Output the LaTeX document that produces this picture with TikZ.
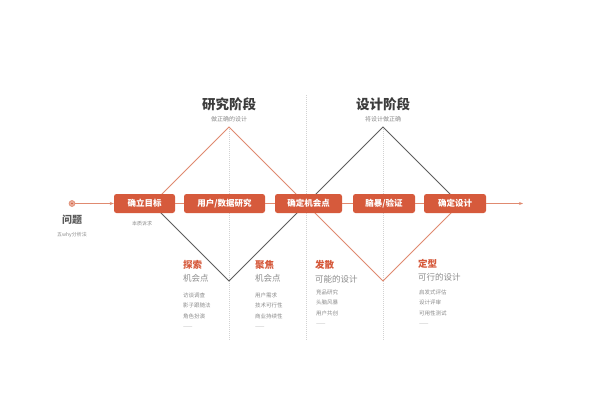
\documentclass[tikz,border=0pt]{standalone}
\usepackage{fontspec}
\setmainfont{Noto Sans CJK SC}
\usetikzlibrary{arrows.meta}
\definecolor{boxred}{HTML}{D65A3C}
\definecolor{lineor}{HTML}{E08A70}
\definecolor{dgray}{HTML}{5E5E5E}
\definecolor{txgray}{HTML}{8C8C8C}
\definecolor{ttl}{HTML}{3C3C3C}
\definecolor{vgray}{HTML}{D2D2D2}
\begin{document}
\begin{tikzpicture}[x=1pt,y=-1pt,
  stepbox/.style={fill=boxred, rounded corners=2.5pt, text=white, font=\fontsize{8.5}{9}\bfseries\selectfont, minimum height=19pt, inner sep=0pt},
  flow/.style={draw=lineor, line width=0.8pt},
  oredge/.style={draw=lineor, line width=1pt},
  gredge/.style={draw=dgray, line width=1pt},
  guide/.style={draw=vgray, line width=0.5pt, dash pattern=on 1pt off 1pt},
  ttlstyle/.style={text=ttl, font=\fontsize{13.5}{14}\bfseries\selectfont, inner sep=0pt},
  substyle/.style={text=txgray, font=\fontsize{6}{7}\selectfont, inner sep=0pt},
  headstyle/.style={text=boxred, font=\fontsize{9.5}{10}\bfseries\selectfont, anchor=west, inner sep=0pt},
  sub2style/.style={text=txgray, font=\fontsize{8.5}{9}\selectfont, anchor=west, inner sep=0pt},
  itemstyle/.style={text=txgray, font=\fontsize{5.5}{6}\selectfont, anchor=west, inner sep=0pt},
  dashstyle/.style={text=vgray, font=\fontsize{5.5}{6}\bfseries\selectfont, anchor=west, inner sep=0pt}
]
\useasboundingbox[fill=white] (0,0) rectangle (600,400);

% guide lines
\coordinate (g1t) at (229,127); \coordinate (g1b) at (229,340);
\coordinate (g2t) at (306,95);  \coordinate (g2b) at (306,340);
\coordinate (g3t) at (383,127); \coordinate (g3b) at (383,340);
\draw[guide] (g1t) -- (g1b);
\draw[guide] (g2t) -- (g2b);
\draw[guide] (g3t) -- (g3b);

% diamond vertices
\coordinate (d1l) at (152,204);
\coordinate (d1t) at (229,127);
\coordinate (d1b) at (229,281);
\coordinate (dm)  at (306,204);
\coordinate (d2t) at (383,127);
\coordinate (d2b) at (383,281);
\coordinate (d2r) at (460,204);
\draw[oredge] (d1l) -- (d1t) -- (dm);
\draw[gredge] (d1l) -- (d1b) -- (dm);
\draw[gredge] (dm) -- (d2t) -- (d2r);
\draw[oredge] (dm) -- (d2b) -- (d2r);

% start point
\node[circle, fill=lineor!70, draw=lineor, line width=0.6pt, minimum size=6pt, inner sep=0pt] (start) at (72,203.5) {};
\node[circle, fill=boxred, minimum size=1.8pt, inner sep=0pt] (startdot) at (start.center) {};
\coordinate (endpt) at (523,203.5);

% boxes
\node[stepbox, minimum width=61pt] (b1) at (144.5,203.5) {确立目标};
\node[stepbox, minimum width=81pt] (b2) at (224.5,203.5) {用户/数据研究};
\node[stepbox, minimum width=67pt] (b3) at (308.5,203.5) {确定机会点};
\node[stepbox, minimum width=62pt] (b4) at (384,203.5) {脑暴/验证};
\node[stepbox, minimum width=62pt] (b5) at (455,203.5) {确定设计};

\draw[flow, -{Stealth[length=4pt,width=3pt]}] (start) -- (b1);
\draw[flow] (b1) -- (b2);
\draw[flow] (b2) -- (b3);
\draw[flow] (b3) -- (b4);
\draw[flow] (b4) -- (b5);
\draw[flow, -{Stealth[length=4pt,width=3pt]}] (b5) -- (endpt);

% left labels
\node[text=ttl!85, font=\fontsize{10}{11}\bfseries\selectfont, inner sep=0pt] (wenti) at (72,219.5) {问题};
\node[substyle, font=\fontsize{5}{6}\selectfont] (wenti2) at (72,235) {五why分析法};
\node[substyle, font=\fontsize{5}{6}\selectfont] (benzhi) at (142,224) {本质诉求};

% titles
\node[ttlstyle] (t1) at (229,104) {研究阶段};
\node[substyle] (t1s) at (229,119.5) {做正确的设计};
\node[ttlstyle] (t2) at (383,104) {设计阶段};
\node[substyle] (t2s) at (383,119.5) {将设计做正确};

% lower columns
\node[headstyle] (h1) at (183,265) {探索};
\node[sub2style] (s1) at (183,278.5) {机会点};
\node[itemstyle] (i11) at (183,295) {访谈调查};
\node[itemstyle] (i12) at (183,305.7) {影子跟随法};
\node[itemstyle] (i13) at (183,316.3) {角色扮演};
\node[dashstyle] (i14) at (183,327.3) {——};

\node[headstyle] (h2) at (255,265) {聚焦};
\node[sub2style] (s2) at (255,278.5) {机会点};
\node[itemstyle] (i21) at (255,295) {用户需求};
\node[itemstyle] (i22) at (255,305.7) {技术可行性};
\node[itemstyle] (i23) at (255,316.3) {商业持续性};
\node[dashstyle] (i24) at (255,327.3) {——};

\node[headstyle] (h3) at (315,265) {发散};
\node[sub2style] (s3) at (315,279) {可能的设计};
\node[itemstyle] (i31) at (316,292) {竞品研究};
\node[itemstyle] (i32) at (316,302.7) {头脑风暴};
\node[itemstyle] (i33) at (316,313.3) {用户共创};
\node[dashstyle] (i34) at (316,324.3) {——};

\node[headstyle] (h4) at (418,263.5) {定型};
\node[sub2style] (s4) at (418,277) {可行的设计};
\node[itemstyle] (i41) at (419,292) {启发式评估};
\node[itemstyle] (i42) at (419,302.7) {设计评审};
\node[itemstyle] (i43) at (419,313.3) {可用性测试};
\node[dashstyle] (i44) at (419,324.3) {——};
\end{tikzpicture}
\end{document}
